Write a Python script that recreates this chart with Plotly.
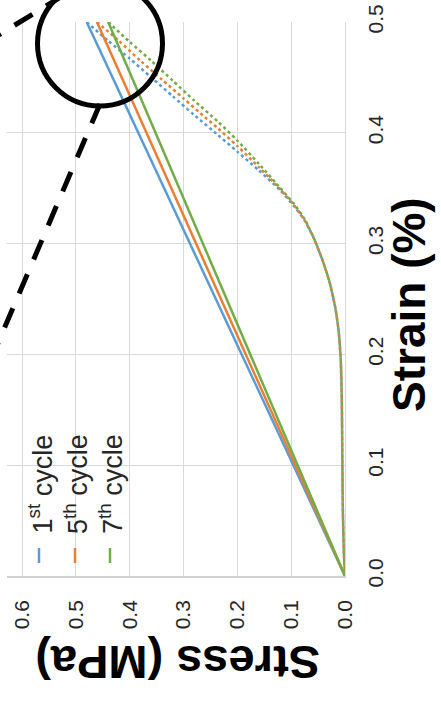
import plotly.graph_objects as go

# ---------------- data ----------------
stress_ticks = [0.0, 0.1, 0.2, 0.3, 0.4, 0.5, 0.6]
stress_ticktext = ["0.0", "0.1", "0.2", "0.3", "0.4", "0.5", "0.6"]
strain_ticks = [0.0, 0.1, 0.2, 0.3, 0.4, 0.5]
strain_ticktext = ["0.0", "0.1", "0.2", "0.3", "0.4", "0.5"]

cycle_names = ["1<sup>st</sup> cycle", "5<sup>th</sup> cycle", "7<sup>th</sup> cycle"]
cycle_colors = ["#5B9BD5", "#ED7D31", "#70AD47"]

# loading (solid)
load_stress_1 = [0.0, 0.480]
load_strain_1 = [0.0, 0.500]
load_stress_5 = [0.0, 0.461]
load_strain_5 = [0.0, 0.500]
load_stress_7 = [0.0, 0.440]
load_strain_7 = [0.0, 0.500]

# unloading (dotted)
unload_stress_1 = [0.480, 0.440, 0.400, 0.360, 0.320, 0.280, 0.236, 0.200, 0.160, 0.120,
                   0.095, 0.075, 0.058, 0.041, 0.028, 0.018, 0.012, 0.008, 0.006, 0.005,
                   0.004, 0.002, 0.0]
unload_strain_1 = [0.500, 0.483, 0.467, 0.450, 0.433, 0.416, 0.398, 0.383, 0.366, 0.348,
                   0.334, 0.321, 0.305, 0.284, 0.264, 0.242, 0.222, 0.196, 0.160, 0.110,
                   0.060, 0.020, 0.0]
unload_stress_5 = [0.461, 0.420, 0.380, 0.340, 0.300, 0.260, 0.236, 0.200, 0.160, 0.120,
                   0.095, 0.075, 0.058, 0.041, 0.028, 0.018, 0.012, 0.008, 0.006, 0.005,
                   0.004, 0.002, 0.0]
unload_strain_5 = [0.500, 0.483, 0.465, 0.448, 0.431, 0.414, 0.404, 0.388, 0.369, 0.349,
                   0.335, 0.321, 0.305, 0.284, 0.264, 0.242, 0.222, 0.196, 0.160, 0.110,
                   0.060, 0.020, 0.0]
unload_stress_7 = [0.440, 0.400, 0.360, 0.320, 0.280, 0.236, 0.200, 0.160, 0.120,
                   0.095, 0.075, 0.058, 0.041, 0.028, 0.018, 0.012, 0.008, 0.006, 0.005,
                   0.004, 0.002, 0.0]
unload_strain_7 = [0.500, 0.482, 0.465, 0.447, 0.429, 0.410, 0.393, 0.372, 0.350,
                   0.336, 0.322, 0.305, 0.284, 0.264, 0.242, 0.222, 0.196, 0.160, 0.110,
                   0.060, 0.020, 0.0]

loads = [(load_stress_1, load_strain_1), (load_stress_5, load_strain_5), (load_stress_7, load_strain_7)]
unloads = [(unload_stress_1, unload_strain_1), (unload_stress_5, unload_strain_5),
           (unload_stress_7, unload_strain_7)]

# ---------------- layout geometry ----------------
W, H = 441, 702
ML, MR, MT, MB = 7, 96, 22, 126
PW, PH = W - ML - MR, H - MT - MB


def px(xp):
    return (xp - ML) / PW


def py(yp):
    return (H - MB - yp) / PH


FONT = "Liberation Sans, Arial, sans-serif"

fig = go.Figure()
for i in range(3):
    fig.add_trace(go.Scatter(x=loads[i][0], y=loads[i][1], mode="lines",
                             line=dict(color=cycle_colors[i], width=2.5),
                             showlegend=False, hoverinfo="skip"))
    fig.add_trace(go.Scatter(x=unloads[i][0], y=unloads[i][1], mode="lines",
                             line=dict(color=cycle_colors[i], width=2.5, dash="dot", shape="spline",
                                       smoothing=0.6),
                             showlegend=False, hoverinfo="skip"))

fig.update_layout(
    width=W, height=H,
    margin=dict(l=ML, r=MR, t=MT, b=MB, pad=0),
    paper_bgcolor="white", plot_bgcolor="white",
    showlegend=False,
    font=dict(family=FONT, color="#262626"),
)

fig.update_xaxes(
    range=[0.628, 0.0], tickvals=stress_ticks, ticktext=stress_ticktext,
    tickangle=-90, tickfont=dict(size=21, family=FONT, color="#262626"),
    showgrid=True, gridcolor="#D9D9D9", gridwidth=1,
    zeroline=False, showline=True, linecolor="#D0D0D0", linewidth=1.5,
    ticks="", ticklabelstandoff=14, automargin=False, fixedrange=True,
)
fig.update_yaxes(
    range=[0.0, 0.5], tickvals=strain_ticks, ticktext=strain_ticktext, side="right",
    tickangle=-90, tickfont=dict(size=21, family=FONT, color="#262626"),
    showgrid=True, gridcolor="#D9D9D9", gridwidth=1,
    zeroline=False, showline=True, linecolor="#D9D9D9", linewidth=1,
    ticks="", ticklabelstandoff=12, automargin=False, fixedrange=True,
)

annotations = [
    dict(text="<b>Strain (%)</b>", x=px(409), y=py(305), xref="paper", yref="paper",
         showarrow=False, textangle=-90, xanchor="center", yanchor="middle",
         font=dict(size=46, family=FONT, color="black")),
    dict(text="<b>Stress (MPa)</b>", x=px(178), y=py(663), xref="paper", yref="paper",
         showarrow=False, textangle=180, xanchor="center", yanchor="middle",
         font=dict(size=47, family=FONT, color="black")),
]
legend_x = [40, 76, 111]
for i in range(3):
    annotations.append(dict(text=cycle_names[i], x=px(legend_x[i]), y=py(536),
                            xref="paper", yref="paper", showarrow=False, textangle=-90,
                            xanchor="center", yanchor="bottom",
                            font=dict(size=27, family=FONT, color="#262626")))
fig.update_layout(annotations=annotations)

shapes = []
for i in range(3):
    shapes.append(dict(type="line", xref="paper", yref="paper",
                       x0=px(legend_x[i] - 1), x1=px(legend_x[i] - 1), y0=py(548), y1=py(563),
                       line=dict(color=cycle_colors[i], width=2.5)))
# magnifier circle and dashed guide lines
shapes.append(dict(type="circle", xref="paper", yref="paper",
                   x0=px(37.5), x1=px(162.5), y0=py(106), y1=py(-19),
                   line=dict(color="black", width=5)))
shapes.append(dict(type="line", xref="paper", yref="paper",
                   x0=px(64), y0=py(-5), x1=px(-17), y1=py(44.5),
                   line=dict(color="black", width=5, dash="21px,16px")))
shapes.append(dict(type="line", xref="paper", yref="paper",
                   x0=px(100), y0=py(104), x1=px(-5), y1=py(350),
                   line=dict(color="black", width=5, dash="21px,16px")))
fig.update_layout(shapes=shapes)

fig.write_html("out.html")
